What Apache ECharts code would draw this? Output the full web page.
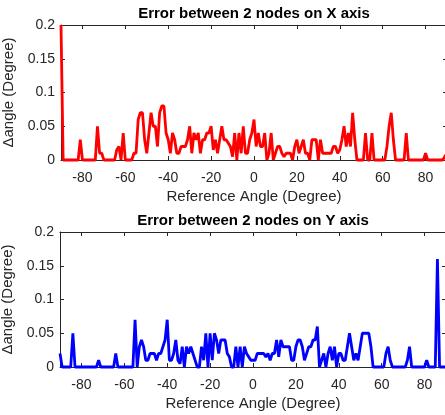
<!DOCTYPE html>
<html>
<head>
<meta charset="utf-8">
<title>Error between 2 nodes</title>
<script src="https://cdn.jsdelivr.net/npm/echarts@6/dist/echarts.min.js"></script>
<style>
  html, body { margin: 0; padding: 0; background: #fff; }
  #main { width: 445px; height: 415px; }
</style>
</head>
<body>
<div id="main"></div>
<script>
// reference angle, -90 .. 90 degree, one sample per degree
let angles = []
for (let a = -90; a <= 90; a++) angles.push(a)

// error between the 2 nodes on X axis (degree)
let errX = [
  0.2, 0, 0, 0, 0, 0, 0, 0, 0, 0.03,                       // -90 .. -81
  0, 0, 0, 0, 0, 0, 0, 0.05, 0.01, 0.01,                   // -80 .. -71
  0, 0, 0, 0, 0, 0, 0.015, 0.02, 0, 0.04,                  // -70 .. -61
  0, 0, 0, 0, 0.01, 0.01, 0.06, 0.07, 0.07, 0.03,          // -60 .. -51
  0.01, 0.04, 0.07, 0.05, 0.05, 0.02, 0.07, 0.08, 0.08, 0.04,  // -50 .. -41
  0.03, 0.01, 0.04, 0.03, 0.01, 0.01, 0.02, 0.02, 0.02, 0.03,  // -40 .. -31
  0.05, 0.01, 0.04, 0.03, 0.04, 0.01, 0.03, 0.03, 0.04, 0.04,  // -30 .. -21
  0.05, 0.015, 0.03, 0.01, 0.03, 0.05, 0.03, 0.03, 0.025, 0.02, // -20 .. -11
  0.005, 0.04, 0, 0.04, 0.01, 0.05, 0.01, 0.01, 0.03, 0.04,    // -10 .. -1
  0.06, 0.02, 0.04, 0.02, 0.02, 0.04, 0, 0.01, 0.04, 0,        // 0 .. 9
  0.01, 0.02, 0.02, 0.01, 0.005, 0.01, 0.01, 0.01, 0, 0.02,    // 10 .. 19
  0.03, 0.01, 0.02, 0.03, 0.01, 0.01, 0, 0.03, 0.03, 0.03,     // 20 .. 29
  0, 0.03, 0.01, 0.01, 0.01, 0.01, 0.01, 0.02, 0.02, 0.01,     // 30 .. 39
  0.015, 0.03, 0.05, 0.02, 0.04, 0.02, 0.07, 0.03, 0, 0,       // 40 .. 49
  0, 0, 0.04, 0, 0, 0.04, 0, 0, 0, 0,                          // 50 .. 59
  0, 0, 0.02, 0.05, 0.07, 0.03, 0, 0, 0, 0,                    // 60 .. 69
  0, 0.04, 0, 0, 0, 0, 0, 0, 0, 0,                             // 70 .. 79
  0.01, 0, 0, 0, 0, 0, 0, 0, 0, 0.005,                         // 80 .. 89
  0.01                                                         // 90
]

// error between the 2 nodes on Y axis (degree)
let errY = [
  0.02, 0, 0, 0, 0, 0, 0.05, 0, 0, 0,                          // -90 .. -81
  0, 0, 0, 0, 0, 0, 0, 0, 0.01, 0,                             // -80 .. -71
  0, 0, 0, 0, 0, 0, 0.02, 0, 0, 0,                             // -70 .. -61
  0, 0, 0, 0, 0, 0.07, 0, 0.03, 0.04, 0.03,                    // -60 .. -51
  0.01, 0.01, 0.02, 0.02, 0.02, 0.01, 0.02, 0.02, 0.03, 0.04,  // -50 .. -41
  0.07, 0.01, 0.01, 0.02, 0.04, 0.01, 0.005, 0.03, 0, 0.03,    // -40 .. -31
  0.02, 0.03, 0.02, 0.01, 0, 0, 0.03, 0.01, 0.05, 0,           // -30 .. -21
  0.05, 0.01, 0.05, 0.04, 0.02, 0.04, 0.04, 0.04, 0.02, 0.015, // -20 .. -11
  0, 0, 0.03, 0, 0.03, 0, 0.03, 0.02, 0.015, 0.01,             // -10 .. -1
  0.01, 0.01, 0.02, 0.02, 0.02, 0.02, 0.015, 0.02, 0.01, 0.02, // 0 .. 9
  0.02, 0.04, 0.015, 0.04, 0.03, 0.03, 0.03, 0.03, 0.01, 0.01, // 10 .. 19
  0.03, 0.04, 0.04, 0.03, 0.01, 0.02, 0.03, 0.03, 0.04, 0.04,  // 20 .. 29
  0.06, 0, 0.01, 0.02, 0, 0.02, 0.03, 0.01, 0.03, 0,           // 30 .. 39
  0.02, 0.02, 0.01, 0.01, 0.03, 0.05, 0.03, 0.01, 0.02, 0.01,  // 40 .. 49
  0.03, 0.05, 0.05, 0.05, 0.05, 0.03, 0, 0, 0, 0,             // 50 .. 59
  0, 0, 0.02, 0.03, 0.01, 0, 0, 0, 0, 0,                       // 60 .. 69
  0, 0, 0.01, 0.03, 0, 0, 0, 0, 0, 0,                          // 70 .. 79
  0, 0.01, 0, 0, 0, 0, 0.16, 0, 0, 0,                          // 80 .. 89
  0                                                            // 90
]

let xTicks = [-80, -60, -40, -20, 0, 20, 40, 60, 80]
let titles = ['Error between 2 nodes on X axis', 'Error between 2 nodes on Y axis']
let xName = 'Reference Angle (Degree)'
let yName = '\u0394angle (Degree)'
let colors = ['#ff0000', '#0000ff']

let font = 'Liberation Sans, Arial, Helvetica, sans-serif'
let ink = '#262626'

function pairs (vals) {
  let out = []
  for (let i = 0; i < angles.length; i++) out.push([angles[i], vals[i]])
  return out
}

// plot boxes (px): [left, right, top, titleTop]
let boxes = [[61, -2, 25, 6], [60, -1, 232, 213]]

let grids = [], xAxes = [], yAxes = [], series = [], titleList = []
boxes.forEach(function (b, i) {
  grids.push({ left: b[0], right: b[1], top: b[2], height: 135, containLabel: false, outerBoundsMode: 'none' })
  titleList.push({
    text: titles[i], left: (b[0] + 445 - b[1]) / 2, top: b[3], padding: 0, textAlign: 'center',
    textStyle: { fontFamily: font, fontSize: 15, fontWeight: 'bold', color: '#000' }
  })
  let common = {
    type: 'value', gridIndex: i, min: -90, max: 90,
    axisLine: { show: true, onZero: false, lineStyle: { color: ink, width: 1 } },
    axisTick: { show: true, inside: true, length: 4, customValues: xTicks, lineStyle: { color: ink } },
    splitLine: { show: false }
  }
  xAxes.push(Object.assign({}, common, {
    position: 'bottom',
    axisLabel: { customValues: xTicks, color: ink, fontFamily: font, fontSize: 14, margin: 11 },
    name: xName, nameLocation: 'middle', nameGap: 29,
    nameTextStyle: { color: ink, fontFamily: font, fontSize: 15 }
  }))
  xAxes.push(Object.assign({}, common, { position: 'top', axisLabel: { show: false } }))
  let ycommon = {
    type: 'value', gridIndex: i, min: 0, max: 0.2, interval: 0.05,
    axisLine: { show: true, onZero: false, lineStyle: { color: ink, width: 1 } },
    axisTick: { show: true, inside: true, length: 4, lineStyle: { color: ink } },
    splitLine: { show: false }
  }
  yAxes.push(Object.assign({}, ycommon, {
    position: 'left',
    axisLabel: { color: ink, fontFamily: font, fontSize: 14, margin: 6 },
    name: yName, nameLocation: 'middle', nameGap: 35,
    nameTextStyle: { color: ink, fontFamily: font, fontSize: 15 }
  }))
  yAxes.push(Object.assign({}, ycommon, { position: 'right', axisLabel: { show: false } }))
  series.push({
    type: 'line', xAxisIndex: i * 2, yAxisIndex: i * 2,
    data: pairs(i === 0 ? errX : errY),
    showSymbol: false, symbol: 'none', clip: false,
    lineStyle: { color: colors[i], width: 2.8 }
  })
})

let myChart = echarts.init(document.getElementById('main'))
let option = {
  backgroundColor: '#ffffff',
  animation: false,
  title: titleList,
  grid: grids,
  xAxis: xAxes,
  yAxis: yAxes,
  series: series
}
myChart.setOption(option)
</script>
</body>
</html>
